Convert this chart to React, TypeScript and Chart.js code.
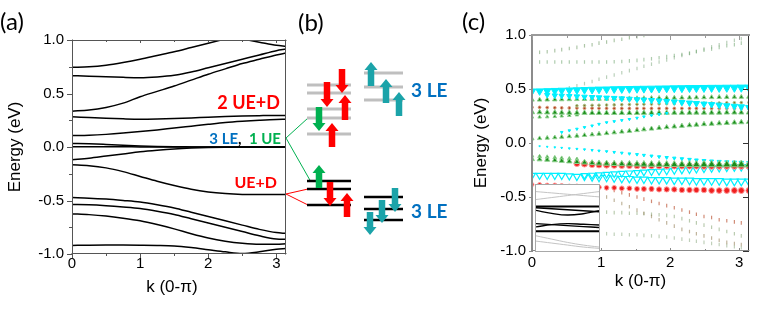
import React, { useEffect, useRef } from "react";
import { Chart, registerables } from "chart.js";
Chart.register(...registerables);

const SANS = "'Liberation Sans', Arial, Helvetica, sans-serif";
const LBL = "Lato, 'Open Sans', 'Liberation Sans', sans-serif";

// ---------------- shared ticks ----------------
const energyTicks = [-1, -0.5, 0, 0.5, 1];
const energyTickLabels = ["-1.0", "-0.5", "0.0", "0.5", "1.0"];
const energyMinorTicks = [-0.75, -0.25, 0.25, 0.75];
const kTicks = [0, 1, 2, 3];
const kTickLabels = ["0", "1", "2", "3"];
const kMinorTicks = [0.5, 1.5, 2.5];

// ---------------- panel (a): bands ----------------
const kA = [0, 0.25, 0.5, 0.75, 1, 1.25, 1.5, 1.75, 2, 2.25, 2.5, 2.75, 3, 3.1416];
const bandA1 = [0.745, 0.75, 0.765, 0.79, 0.82, 0.855, 0.89, 0.93, 0.97, 1.01, 1.05, 1.09, 1.12, 1.13];
const bandA2 = [1.3, 1.28, 1.25, 1.22, 1.19, 1.16, 1.13, 1.1, 1.07, 1.04, 1.01, 0.98, 0.95, 0.94];
const bandA3 = [0.666, 0.662, 0.656, 0.651, 0.648, 0.655, 0.67, 0.7, 0.74, 0.78, 0.82, 0.86, 0.9, 0.915];
const bandA4 = [0.335, 0.345, 0.37, 0.41, 0.47, 0.52, 0.57, 0.625, 0.68, 0.73, 0.78, 0.82, 0.86, 0.878];
const bandA5 = [0.282, 0.275, 0.268, 0.263, 0.26, 0.262, 0.266, 0.272, 0.279, 0.285, 0.29, 0.293, 0.295, 0.295];
const bandA6 = [0.107, 0.11, 0.118, 0.13, 0.145, 0.16, 0.178, 0.195, 0.212, 0.228, 0.24, 0.25, 0.258, 0.26];
const bandA7 = [0.033, 0.03, 0.024, 0.017, 0.01, 0.005, 0.002, 0.001, 0, 0, 0, 0, 0, 0];
const bandA8 = [0.003, 0.003, 0.002, 0.002, 0.001, 0.001, 0, 0, 0, 0, 0, 0, 0, 0];
const bandA9 = [-0.12, -0.105, -0.085, -0.065, -0.045, -0.03, -0.018, -0.01, -0.005, -0.002, 0, 0, 0, 0];
const bandA10 = [-0.167, -0.175, -0.195, -0.23, -0.275, -0.32, -0.36, -0.395, -0.42, -0.435, -0.443, -0.445, -0.445, -0.445];
const bandA11 = [-0.473, -0.478, -0.487, -0.5, -0.515, -0.54, -0.57, -0.61, -0.65, -0.69, -0.73, -0.77, -0.8, -0.807];
const bandA12 = [-0.538, -0.54, -0.548, -0.56, -0.575, -0.6, -0.63, -0.67, -0.71, -0.75, -0.79, -0.83, -0.86, -0.863];
const bandA13 = [-0.625, -0.632, -0.645, -0.665, -0.69, -0.725, -0.765, -0.81, -0.85, -0.88, -0.9, -0.91, -0.91, -0.905];
const bandA14 = [-0.92, -0.918, -0.917, -0.917, -0.918, -0.92, -0.925, -0.94, -0.96, -0.98, -0.995, -0.98, -0.955, -0.948];
const bandsA = [bandA1, bandA2, bandA3, bandA4, bandA5, bandA6, bandA7, bandA8, bandA9, bandA10, bandA11, bandA12, bandA13, bandA14];

// ---------------- panel (b): schematic levels (arbitrary units) ----------------
const levelsUpperLeft = [22.8, 22.0, 20.4, 19.5, 17.9];
const levelsUpperRight = [24.0, 22.6, 21.3];
const levelsLowerLeft = [13.2, 12.4, 10.8];
const levelsLowerRight = [11.6, 10.4, 9.3];
const slotLeft = [2.1, 6.5];
const slotRight = [7.8, 11.7];
// arrows: [x, tail, tip, colour key]
const arrowsB: [number, number, number, string][] = [
  [5.6, 24.4, 22.0, "red"],
  [4.1, 23.1, 20.6, "red"],
  [5.9, 19.3, 21.8, "red"],
  [3.3, 20.6, 18.2, "green"],
  [4.6, 16.6, 19.0, "red"],
  [8.5, 22.7, 25.1, "teal"],
  [10.0, 21.0, 23.4, "teal"],
  [11.3, 19.7, 22.1, "teal"],
  [3.3, 12.5, 14.8, "green"],
  [4.4, 13.1, 10.7, "red"],
  [6.1, 9.6, 12.0, "red"],
  [10.9, 12.5, 10.1, "teal"],
  [9.6, 11.3, 9.0, "teal"],
  [8.4, 10.1, 7.8, "teal"],
];
// connectors from panel (a) to (b): [x0,y0,x1,y1]
const greenLinks = [[0, 17.5, 2.2, 19.5], [0, 17.5, 2.5, 13.1]];
const redLinks = [[0, 11.9, 2.2, 12.4], [0, 11.9, 2.2, 10.8]];

// ---------------- panel (c): weighted bands ----------------
const kC = [0.00, 0.11, 0.22, 0.33, 0.43, 0.54, 0.65, 0.76, 0.87, 0.97, 1.08, 1.19, 1.30, 1.41, 1.52, 1.62, 1.73, 1.84, 1.95, 2.06, 2.17, 2.28, 2.38, 2.49, 2.60, 2.71, 2.82, 2.93, 3.03, 3.14];
const N = null;
const cyanTopE = [0.480, 0.481, 0.483, 0.485, 0.487, 0.489, 0.491, 0.493, 0.495, 0.497, 0.498, 0.500, 0.501, 0.502, 0.503, 0.504, 0.505, 0.506, 0.507, 0.508, 0.509, 0.510, 0.510, 0.511, 0.512, 0.512, 0.513, 0.513, 0.514, 0.514];
const cyanMidE = [N, N, 0.445, 0.44, 0.437, 0.434, 0.431, 0.428, 0.425, 0.422, 0.419, 0.416, 0.412, 0.408, 0.404, 0.40, 0.396, 0.392, 0.387, 0.382, 0.377, 0.372, 0.367, 0.362, 0.357, 0.352, 0.346, 0.341, 0.336, 0.33];
const cyanRiseE = [N, N, N, N, 0.10, 0.115, 0.13, 0.145, 0.16, 0.175, 0.19, 0.2, 0.21, 0.22, 0.232, 0.244, 0.255, 0.265, 0.275, N, N, N, N, N, N, N, N, N, N, N];
const cyanFallE = [N, -0.03, -0.035, -0.04, -0.045, -0.05, -0.055, -0.06, -0.066, -0.072, -0.078, -0.085, -0.092, -0.099, -0.106, -0.113, -0.12, -0.127, -0.134, -0.14, -0.146, -0.152, -0.158, -0.163, -0.168, -0.172, -0.176, -0.179, -0.182, -0.184];
const cyanOpenE = [-0.3, -0.3, -0.3, -0.3, -0.3, -0.305, -0.31, -0.31, -0.315, -0.32, -0.32, -0.325, -0.33, -0.33, -0.335, -0.335, -0.34, -0.34, -0.34, -0.345, -0.345, -0.345, -0.35, -0.35, -0.35, -0.35, -0.355, -0.355, -0.355, -0.355];
const cyanOpen2E = [N, N, N, N, N, N, N, -0.30, -0.297, -0.293, -0.289, -0.285, -0.281, -0.277, -0.273, -0.269, -0.265, -0.261, -0.257, -0.253, -0.249, -0.245, -0.241, -0.237, -0.233, -0.23, -0.227, -0.224, -0.222, -0.22];
const greenBigE = [-0.15, -0.152, -0.155, -0.16, -0.165, -0.17, -0.175, -0.18, -0.185, -0.188, -0.19, -0.192, -0.194, -0.195, -0.196, -0.197, -0.198, -0.198, -0.199, -0.2, -0.2, -0.2, -0.2, -0.2, -0.2, -0.2, -0.2, -0.2, -0.2, -0.2];
const greenSecE = [-0.12, -0.125, -0.13, -0.135, -0.14, -0.145, -0.15, N, N, N, N, N, N, N, N, N, N, N, N, N, N, N, N, N, N, N, N, N, N, N];
const redMidE = [N, N, N, N, N, N, -0.19, -0.195, -0.2, -0.203, -0.205, -0.207, -0.208, -0.209, -0.21, -0.21, -0.211, -0.212, -0.212, -0.213, -0.213, -0.214, -0.214, -0.215, -0.215, -0.215, -0.215, -0.215, -0.215, -0.215];
const redLowE = [-0.385, -0.385, -0.39, -0.39, -0.395, -0.4, -0.4, -0.405, -0.41, -0.41, -0.415, -0.415, -0.42, -0.42, -0.425, -0.425, -0.425, -0.43, -0.43, -0.43, -0.435, -0.435, -0.435, -0.435, -0.44, -0.44, -0.44, -0.44, -0.44, -0.44];
const greenRiseE = [0.04, 0.043, 0.047, 0.051, 0.056, 0.061, 0.066, 0.072, 0.078, 0.084, 0.09, 0.097, 0.104, 0.111, 0.118, 0.125, 0.132, 0.139, 0.146, 0.152, 0.158, 0.164, 0.169, 0.174, 0.178, 0.182, 0.186, 0.189, 0.192, 0.195];
const green028E = [0.285, 0.284, 0.283, 0.282, 0.281, 0.28, 0.279, 0.279, 0.278, 0.278, 0.278, 0.278, 0.278, 0.278, 0.278, 0.279, 0.279, 0.279, 0.28, 0.28, 0.28, 0.28, 0.281, 0.281, 0.281, 0.281, 0.282, 0.282, 0.282, 0.282];
const green040E = [0.40, 0.40, 0.401, 0.402, 0.403, 0.404, 0.405, 0.406, 0.407, 0.408, 0.409, 0.41, 0.411, 0.412, 0.413, 0.414, 0.415, 0.416, 0.417, 0.418, 0.419, 0.42, 0.421, 0.422, 0.423, 0.424, 0.425, 0.426, 0.426, 0.427];
const green036E = [N, N, N, N, N, N, 0.345, 0.347, 0.349, 0.35, 0.352, 0.353, 0.355, 0.356, 0.358, 0.359, 0.36, 0.362, 0.363, 0.364, 0.366, 0.367, 0.368, 0.369, 0.37, 0.371, 0.372, 0.373, 0.374, 0.375];
const green024E = [0.24, 0.24, 0.242, 0.245, 0.25, 0.255, 0.26, N, N, N, N, N, N, N, N, N, N, N, N, N, N, N, N, N, N, N, N, N, N, N];
const brown032E = [0.33, 0.33, 0.328, 0.326, 0.325, 0.324, 0.323, 0.322, 0.322, 0.321, 0.321, 0.32, 0.32, 0.32, 0.32, 0.32, 0.32, 0.32, 0.32, 0.32, 0.32, 0.32, 0.32, 0.32, 0.32, 0.32, 0.32, 0.32, 0.32, 0.32];
const upper1E = [N, 0.84, 0.845, 0.855, 0.865, 0.875, 0.885, 0.9, 0.91, 0.925, 0.935, 0.95, 0.96, 0.975, 0.985, 0.995, N, N, N, N, N, N, N, N, N, N, N, N, N, N];
const upper2E = [N, 0.75, 0.75, 0.75, 0.75, 0.75, 0.75, 0.75, 0.75, 0.75, 0.75, 0.752, 0.755, 0.76, 0.765, 0.772, 0.78, 0.79, 0.8, 0.81, 0.82, 0.83, 0.845, 0.86, 0.87, 0.885, 0.9, 0.91, 0.925, 0.935];
const upper3E = [N, N, N, N, N, 0.51, 0.53, 0.55, 0.57, 0.59, 0.61, 0.63, 0.65, 0.67, 0.69, 0.71, 0.73, 0.75, 0.77, 0.79, 0.81, 0.83, 0.85, 0.87, 0.89, 0.91, 0.93, 0.95, 0.965, 0.98];
const lower1E = [N, N, N, N, N, N, N, N, N, -0.40, -0.42, -0.44, -0.46, -0.48, -0.5, -0.52, -0.54, -0.56, -0.58, -0.6, -0.62, -0.64, -0.66, -0.68, -0.69, -0.71, -0.72, -0.73, -0.74, -0.745];
const lower2E = [N, N, N, N, N, N, N, N, N, -0.47, -0.5, -0.53, -0.56, -0.59, -0.62, -0.65, -0.68, -0.71, -0.74, -0.77, -0.8, -0.82, -0.84, -0.86, -0.88, -0.9, -0.92, -0.93, -0.94, -0.95];
const lower3E = [N, N, N, N, N, N, N, N, N, -0.64, -0.64, -0.645, -0.645, -0.65, -0.65, -0.655, -0.66, -0.665, -0.67, -0.68, -0.7, -0.72, -0.74, -0.76, -0.78, -0.8, -0.82, -0.84, -0.86, -0.88];
const lower4E = [N, N, N, N, N, N, N, N, N, -0.84, -0.84, -0.845, -0.845, -0.85, -0.85, -0.855, -0.86, -0.865, -0.87, -0.88, -0.89, -0.9, -0.91, -0.92, -0.93, -0.94, -0.95, -0.96, -0.97, -0.98];

// inset of (c): normalised units
const kInset = [0, 0.25, 0.5, 0.75, 1];
const insetGray = [
  [0.9, 0.88, 0.86, 0.84, 0.82],
  [0.78, 0.81, 0.84, 0.87, 0.9],
  [0.23, 0.18, 0.13, 0.09, 0.06],
  [0.15, 0.12, 0.09, 0.06, 0.04],
];
const insetBlack = [
  [0.673, 0.673, 0.673, 0.673, 0.673],
  [0.655, 0.64, 0.625, 0.61, 0.595],
  [0.615, 0.57, 0.545, 0.565, 0.61],
  [0.415, 0.4, 0.385, 0.37, 0.356],
  [0.366, 0.4, 0.415, 0.405, 0.395],
  [0.298, 0.298, 0.298, 0.298, 0.298],
];

// ---------------- helpers ----------------
type TickSet = { values: number[]; len: number; inward?: boolean };
type Side = { color: string; width: number; ticks?: TickSet[] };
type Frame = Partial<Record<"left" | "right" | "top" | "bottom", Side>>;

function framePlugin(frame: Frame) {
  return {
    id: "frame",
    afterDatasetsDraw(chart: any) {
      const { ctx, chartArea: a } = chart;
      const xs = chart.scales.x, ys = chart.scales.y;
      ctx.save();
      (["left", "right", "top", "bottom"] as const).forEach((side) => {
        const s = frame[side];
        if (!s) return;
        ctx.strokeStyle = s.color;
        ctx.lineCap = "square";
        ctx.lineWidth = s.width;
        const h = s.width % 2 === 1 ? 0.5 : 0;
        ctx.beginPath();
        if (side === "left") { ctx.moveTo(a.left + h, a.top); ctx.lineTo(a.left + h, a.bottom); }
        if (side === "right") { ctx.moveTo(a.right - h, a.top); ctx.lineTo(a.right - h, a.bottom); }
        if (side === "top") { ctx.moveTo(a.left, a.top + h); ctx.lineTo(a.right, a.top + h); }
        if (side === "bottom") { ctx.moveTo(a.left, a.bottom - h); ctx.lineTo(a.right, a.bottom - h); }
        ctx.stroke();
        ctx.lineCap = "butt";
        (s.ticks || []).forEach((t) => {
          ctx.lineWidth = 1;
          ctx.beginPath();
          t.values.forEach((v) => {
            if (side === "left" || side === "right") {
              const p = Math.round(ys.getPixelForValue(v)) + 0.5;
              const x0 = side === "left" ? a.left : a.right;
              const out = side === "left" ? -1 : 1;
              const d = t.inward ? -out : out;
              ctx.moveTo(x0, p); ctx.lineTo(x0 + d * t.len, p);
            } else {
              const p = Math.round(xs.getPixelForValue(v)) + 0.5;
              const y0 = side === "top" ? a.top : a.bottom;
              const out = side === "top" ? -1 : 1;
              const d = t.inward ? -out : out;
              ctx.moveTo(p, y0); ctx.lineTo(p, y0 + d * t.len);
            }
          });
          ctx.stroke();
        });
      });
      ctx.restore();
    },
  };
}

function axisScales(opt: { yWidth: number; xHeight: number; yTitlePad: number; xTitlePad: number; xTitle: string; yPad: number; xPad: number }) {
  return {
    x: {
      type: "linear", min: 0, max: Math.PI,
      grid: { display: false, drawTicks: false }, border: { display: false },
      afterBuildTicks: (s: any) => { s.ticks = kTicks.map((v) => ({ value: v })); },
      afterFit: (s: any) => { s.height = opt.xHeight; },
      ticks: { autoSkip: false, maxRotation: 0, padding: opt.xPad, color: "#000", font: { size: 15, family: SANS },
        callback: (v: number) => kTickLabels[kTicks.indexOf(v)] },
      title: { display: true, text: opt.xTitle, color: "#000", font: { size: 17, family: SANS }, padding: { top: 0, bottom: opt.xTitlePad } },
    },
    y: {
      type: "linear", min: -1, max: 1,
      grid: { display: false, drawTicks: false }, border: { display: false },
      afterBuildTicks: (s: any) => { s.ticks = energyTicks.map((v) => ({ value: v })); },
      afterFit: (s: any) => { s.width = opt.yWidth; },
      ticks: { autoSkip: false, padding: opt.yPad, color: "#000", font: { size: 15, family: SANS },
        callback: (v: number) => energyTickLabels[energyTicks.indexOf(v)] },
      title: { display: true, text: "Energy (eV)", color: "#000", font: { size: 17, family: SANS }, padding: { top: opt.yTitlePad, bottom: 0 } },
    },
  };
}

const basePlugins = { legend: { display: false }, tooltip: { enabled: false } };

function buildA() {
  return {
    type: "line",
    data: {
      datasets: bandsA.map((b) => ({
        data: kA.map((k, i) => ({ x: k, y: b[i] })),
        borderColor: "#000", borderWidth: 1.5, pointRadius: 0, tension: 0.4, cubicInterpolationMode: "monotone", fill: false,
      })),
    },
    options: {
      animation: false, responsive: false, maintainAspectRatio: false,
      layout: { padding: { top: 40, right: 4, left: 0, bottom: 0 } },
      plugins: basePlugins,
      scales: axisScales({ yWidth: 72, xHeight: 59, yTitlePad: 5, xTitlePad: 15, xTitle: "k (0-π)   ", yPad: 8, xPad: 1 }),
    },
    plugins: [framePlugin({
      left: { color: "#555", width: 1, ticks: [{ values: energyTicks, len: 5 }, { values: energyMinorTicks, len: 3 }] },
      bottom: { color: "#555", width: 1, ticks: [{ values: kTicks, len: 4 }, { values: kMinorTicks, len: 2 }] },
      top: { color: "#555", width: 1, ticks: [{ values: kTicks, len: 3, inward: true }, { values: kMinorTicks, len: 2, inward: true }] },
      right: { color: "#555", width: 1 },
    })],
  };
}

const ARROW_COLORS: Record<string, string> = { red: "#ff0000", green: "#00b050", teal: "#1ba3a9" };

const arrowPlugin = {
  id: "arrows",
  afterDatasetsDraw(chart: any) {
    const { ctx } = chart;
    const xs = chart.scales.x, ys = chart.scales.y;
    ctx.save();
    arrowsB.forEach(([x, from, to, c]) => {
      const px = xs.getPixelForValue(x);
      const p0 = ys.getPixelForValue(from);
      const p1 = ys.getPixelForValue(to);
      const dir = p1 > p0 ? 1 : -1;
      const sw = 6.5, hw = 13, hl = 8;
      const pb = p1 - dir * hl;
      ctx.fillStyle = ARROW_COLORS[c];
      ctx.beginPath();
      ctx.moveTo(px - sw / 2, p0);
      ctx.lineTo(px - sw / 2, pb);
      ctx.lineTo(px - hw / 2, pb);
      ctx.lineTo(px, p1);
      ctx.lineTo(px + hw / 2, pb);
      ctx.lineTo(px + sw / 2, pb);
      ctx.lineTo(px + sw / 2, p0);
      ctx.closePath();
      ctx.fill();
    });
    ctx.restore();
  },
};

function levelSet(levels: number[], slot: number[], color: string, width: number) {
  return levels.map((L) => ({
    data: [{ x: slot[0], y: L }, { x: slot[1], y: L }],
    borderColor: color, borderWidth: width, pointRadius: 0, fill: false,
  }));
}

function buildB() {
  return {
    type: "line",
    data: {
      datasets: [
        ...levelSet(levelsUpperLeft, slotLeft, "#bfbfbf", 3),
        ...levelSet(levelsUpperRight, slotRight, "#bfbfbf", 3),
        ...levelSet(levelsLowerLeft, slotLeft, "#000", 2.5),
        ...levelSet(levelsLowerRight, slotRight, "#000", 2.5),
        ...greenLinks.map((l) => ({ data: [{ x: l[0], y: l[1] }, { x: l[2], y: l[3] }], borderColor: "#00b050", borderWidth: 1, pointRadius: 0 })),
        ...redLinks.map((l) => ({ data: [{ x: l[0], y: l[1] }, { x: l[2], y: l[3] }], borderColor: "#ff0000", borderWidth: 1, pointRadius: 0 })),
      ],
    },
    options: {
      animation: false, responsive: false, maintainAspectRatio: false,
      layout: { padding: 0 },
      plugins: basePlugins,
      scales: {
        x: { type: "linear", min: 0, max: 17.4, display: false },
        y: { type: "linear", min: 0, max: 31.3, display: false },
      },
    },
    plugins: [arrowPlugin],
  };
}

function pts(ys: (number | null)[]) {
  const out: { x: number; y: number }[] = [];
  ys.forEach((y, i) => { if (y !== null) out.push({ x: kC[i], y }); });
  return out;
}

function grow(a: number, b: number) {
  return (c: any) => a + (b - a) * ((c.raw && c.raw.x) || 0) / Math.PI;
}

const GREEN_FILL = "#1a8c1a", GREEN_EDGE = "#8fd18f";
const RED_FILL = "#f02020", RED_EDGE = "#ff9a9a";
const CYAN = "#00f0ff";

function buildC() {
  const tri = (data: any, r: any, fill: string, edge: string, bw = 1, rot = 0) => ({
    data: pts(data), showLine: false, pointStyle: "triangle", pointRotation: rot,
    pointRadius: r, pointBackgroundColor: fill, pointBorderColor: edge, pointBorderWidth: bw,
  });
  const dot = (data: any, r: any, fill: string, edge: string) => ({
    data: pts(data), showLine: false, pointStyle: "circle",
    pointRadius: r, pointBackgroundColor: fill, pointBorderColor: edge, pointBorderWidth: 1,
  });
  const dash = (data: any, color: string) => ({
    data: pts(data), showLine: false, pointStyle: "line", pointRotation: 90,
    pointRadius: 1.8, pointBorderColor: color, pointBorderWidth: 1.2, pointBackgroundColor: color,
  });
  return {
    type: "scatter",
    data: {
      datasets: [
        tri(greenBigE, grow(2.8, 4.6), GREEN_FILL, GREEN_EDGE),
        tri(greenSecE, 2.2, GREEN_FILL, GREEN_EDGE),
        dot(redMidE, 3, RED_FILL, RED_EDGE),
        tri(cyanOpen2E, grow(3.5, 4.2), "#ffffff", CYAN, 1.2, 180),
        tri(cyanOpenE, grow(4, 4.6), "#ffffff", CYAN, 1.2, 180),
        dot(redLowE, grow(2, 3), RED_FILL, RED_EDGE),
        tri(cyanTopE, grow(4.3, 4.8), CYAN, CYAN, 1, 180),
        tri(cyanMidE, grow(3, 3.8), CYAN, CYAN, 1, 180),
        tri(cyanFallE, grow(0.8, 2.6), CYAN, CYAN, 1, 180),
        tri(cyanRiseE, 1.5, CYAN, CYAN, 1, 180),
        tri(greenRiseE, grow(2.4, 3), GREEN_FILL, GREEN_EDGE),
        tri(green028E, 3, GREEN_FILL, GREEN_EDGE),
        tri(green040E, 2.6, GREEN_FILL, GREEN_EDGE),
        dot(green036E, 1.3, "#8a6a2a", "#a7c98a"),
        dot(brown032E, 1.4, "#b04020", "#d8a080"),
        tri(green024E, 2, GREEN_FILL, GREEN_EDGE),
        dash(upper1E, "rgba(120,160,110,0.6)"),
        dash(upper2E, "rgba(120,170,120,0.6)"),
        dash(upper3E, "rgba(130,170,130,0.55)"),
        dash(lower1E, "rgba(190,90,60,0.7)"),
        dash(lower2E, "rgba(150,130,90,0.6)"),
        dash(lower3E, "rgba(130,160,110,0.55)"),
        dash(lower4E, "rgba(140,170,130,0.55)"),
      ],
    },
    options: {
      animation: false, responsive: false, maintainAspectRatio: false,
      layout: { padding: { top: 35, right: 14, left: 0, bottom: 0 } },
      plugins: basePlugins,
      scales: axisScales({ yWidth: 72, xHeight: 62, yTitlePad: 11, xTitlePad: 21, xTitle: "k (0-π)", yPad: 6, xPad: 3 }),
    },
    plugins: [framePlugin({
      left: { color: "#8c8c8c", width: 2, ticks: [{ values: energyTicks, len: 3 }] },
      top: { color: "#9a9a9a", width: 2, ticks: [{ values: kTicks, len: 5, inward: true }, { values: kMinorTicks, len: 3, inward: true }] },
      right: { color: "#333", width: 1, ticks: [{ values: energyTicks, len: 6, inward: true }] },
      bottom: { color: "#888", width: 1, ticks: [{ values: kTicks, len: 3, inward: true }, { values: kMinorTicks, len: 2, inward: true }] },
    })],
  };
}

const insetBgPlugin = {
  id: "insetBg",
  beforeDraw(chart: any) {
    const { ctx, width, height } = chart;
    ctx.save();
    ctx.fillStyle = "#fff";
    ctx.fillRect(0, 0, width, height);
    ctx.restore();
  },
  afterDatasetsDraw(chart: any) {
    const { ctx, width, height } = chart;
    ctx.save();
    ctx.strokeStyle = "#a8a8a8";
    ctx.lineWidth = 1;
    ctx.strokeRect(0.5, 0.5, width - 1, height - 1);
    ctx.restore();
  },
};

function buildInset() {
  return {
    type: "line",
    data: {
      datasets: [
        ...insetBlack.map((b, j) => ({ data: kInset.map((k, i) => ({ x: k, y: b[i] })), borderColor: "#000", borderWidth: j === 0 || j === 5 ? 2 : 1.4, pointRadius: 0, tension: 0.4 })),
        ...insetGray.map((b) => ({ data: kInset.map((k, i) => ({ x: k, y: b[i] })), borderColor: "#c4c4c4", borderWidth: 1, pointRadius: 0, tension: 0.4 })),
      ],
    },
    options: {
      animation: false, responsive: false, maintainAspectRatio: false,
      layout: { padding: 1 },
      plugins: basePlugins,
      scales: {
        x: { type: "linear", min: 0, max: 1, display: false },
        y: { type: "linear", min: 0, max: 1, display: false },
      },
    },
    plugins: [insetBgPlugin],
  };
}

function ChartBox({ left, top, width, height, build }: { left: number; top: number; width: number; height: number; build: () => any }) {
  const ref = useRef<HTMLCanvasElement>(null);
  useEffect(() => {
    const chart = new Chart(ref.current as HTMLCanvasElement, build());
    return () => chart.destroy();
  }, []);
  return <canvas ref={ref} width={width} height={height} style={{ position: "absolute", left, top, width, height }} />;
}

function Txt({ x, y, size, color = "#000", weight = 400, family = LBL, right, children }: any) {
  const style: any = {
    position: "absolute", top: y - size * 0.6, lineHeight: `${size * 1.2}px`, fontSize: size,
    fontFamily: family, fontWeight: weight, color, whiteSpace: "pre",
  };
  if (right !== undefined) style.right = 763 - right; else style.left = x;
  return <div style={style}>{children}</div>;
}

export default function App() {
  return (
    <div style={{ position: "absolute", left: 0, top: 0, width: 763, height: 313, background: "#fff", overflow: "hidden" }}>
      <ChartBox left={0} top={0} width={290} height={313} build={buildA} />
      <ChartBox left={286} top={0} width={174} height={313} build={buildB} />
      <ChartBox left={460} top={0} width={303} height={313} build={buildC} />
      <ChartBox left={535} top={184} width={65} height={68} build={buildInset} />
      <Txt x={0} y={21} size={24}>(a)</Txt>
      <Txt x={298} y={22} size={24}>(b)</Txt>
      <Txt x={462} y={21} size={24}>(c)</Txt>
      <Txt right={280} y={103} size={18} weight={700} color="#ff0000">2 UE+D</Txt>
      <Txt right={281} y={138} size={15} weight={700}>
        <span style={{ color: "#0070c0" }}>3 LE</span>
        <span style={{ color: "#000" }}>,  </span>
        <span style={{ color: "#00b050" }}>1 UE</span>
      </Txt>
      <Txt right={277} y={182} size={16} weight={700} color="#ff0000">UE+D</Txt>
      <Txt x={411} y={90} size={19} weight={700} color="#0070c0">3 LE</Txt>
      <Txt x={411} y={211} size={19} weight={700} color="#0070c0">3 LE</Txt>
    </div>
  );
}
